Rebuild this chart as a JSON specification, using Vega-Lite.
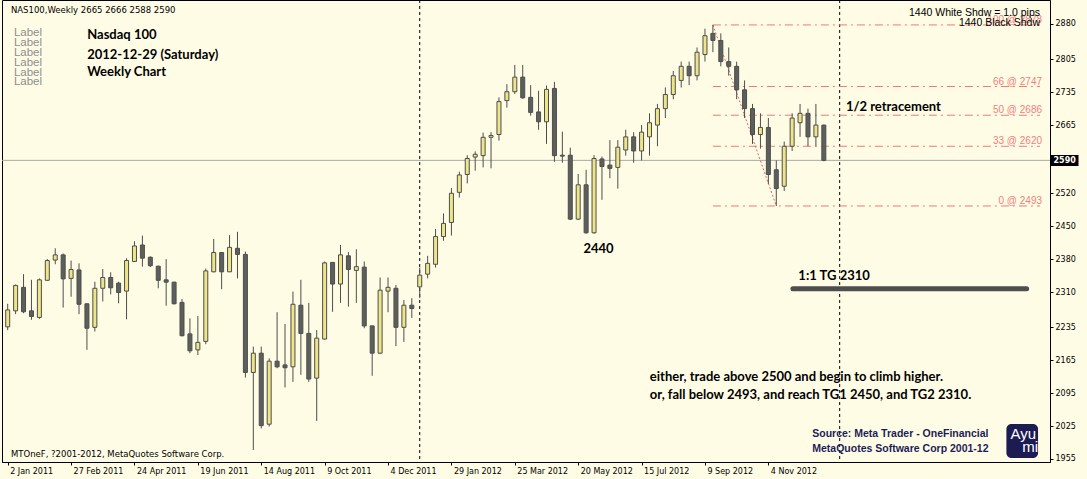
{
  "$schema": "https://vega.github.io/schema/vega-lite/v6.json",
  "width": 1048,
  "height": 462,
  "autosize": {"type": "none"},
  "padding": {"left": 2, "top": 0, "right": 37, "bottom": 17},
  "background": "#FFFCE6",
  "config": {"view": {"stroke": "#000000", "strokeWidth": 1}},
  "resolve": {"axis": {"x": "independent", "y": "independent"}},
  "datasets": {
    "candles": [
      {"d":"2011-01-02","o":2236,"h":2285,"l":2229,"c":2272},
      {"d":"2011-01-09","o":2270,"h":2326,"l":2263,"c":2324},
      {"d":"2011-01-16","o":2320,"h":2348,"l":2265,"c":2268},
      {"d":"2011-01-23","o":2270,"h":2336,"l":2251,"c":2258},
      {"d":"2011-01-30","o":2256,"h":2339,"l":2253,"c":2336},
      {"d":"2011-02-06","o":2335,"h":2380,"l":2334,"c":2377},
      {"d":"2011-02-13","o":2378,"h":2403,"l":2369,"c":2389},
      {"d":"2011-02-20","o":2389,"h":2392,"l":2277,"c":2338},
      {"d":"2011-02-27","o":2339,"h":2377,"l":2300,"c":2358},
      {"d":"2011-03-06","o":2357,"h":2371,"l":2263,"c":2284},
      {"d":"2011-03-13","o":2285,"h":2286,"l":2187,"c":2233},
      {"d":"2011-03-20","o":2235,"h":2332,"l":2226,"c":2318},
      {"d":"2011-03-27","o":2318,"h":2359,"l":2290,"c":2341},
      {"d":"2011-04-03","o":2341,"h":2352,"l":2305,"c":2319},
      {"d":"2011-04-10","o":2329,"h":2332,"l":2286,"c":2309},
      {"d":"2011-04-17","o":2312,"h":2382,"l":2252,"c":2377},
      {"d":"2011-04-24","o":2375,"h":2418,"l":2374,"c":2408},
      {"d":"2011-05-01","o":2410,"h":2430,"l":2364,"c":2382},
      {"d":"2011-05-08","o":2384,"h":2386,"l":2363,"c":2366},
      {"d":"2011-05-15","o":2365,"h":2366,"l":2318,"c":2335},
      {"d":"2011-05-22","o":2336,"h":2380,"l":2281,"c":2331},
      {"d":"2011-05-29","o":2331,"h":2332,"l":2284,"c":2285},
      {"d":"2011-06-05","o":2288,"h":2295,"l":2216,"c":2217},
      {"d":"2011-06-12","o":2221,"h":2254,"l":2180,"c":2185},
      {"d":"2011-06-19","o":2187,"h":2259,"l":2176,"c":2203},
      {"d":"2011-06-26","o":2205,"h":2360,"l":2199,"c":2355},
      {"d":"2011-07-03","o":2353,"h":2423,"l":2352,"c":2394},
      {"d":"2011-07-10","o":2394,"h":2395,"l":2316,"c":2353},
      {"d":"2011-07-17","o":2353,"h":2431,"l":2353,"c":2405},
      {"d":"2011-07-24","o":2403,"h":2438,"l":2339,"c":2390},
      {"d":"2011-07-31","o":2390,"h":2396,"l":2128,"c":2139},
      {"d":"2011-08-07","o":2139,"h":2194,"l":1974,"c":2180},
      {"d":"2011-08-14","o":2180,"h":2194,"l":2020,"c":2026},
      {"d":"2011-08-21","o":2029,"h":2169,"l":2024,"c":2163},
      {"d":"2011-08-28","o":2163,"h":2267,"l":2148,"c":2151},
      {"d":"2011-09-04","o":2155,"h":2242,"l":2107,"c":2149},
      {"d":"2011-09-11","o":2151,"h":2311,"l":2119,"c":2284},
      {"d":"2011-09-18","o":2282,"h":2336,"l":2134,"c":2222},
      {"d":"2011-09-25","o":2222,"h":2287,"l":2119,"c":2125},
      {"d":"2011-10-02","o":2127,"h":2229,"l":2036,"c":2212},
      {"d":"2011-10-09","o":2210,"h":2375,"l":2209,"c":2372},
      {"d":"2011-10-16","o":2373,"h":2374,"l":2268,"c":2327},
      {"d":"2011-10-23","o":2327,"h":2410,"l":2287,"c":2389},
      {"d":"2011-10-30","o":2387,"h":2395,"l":2279,"c":2358},
      {"d":"2011-11-06","o":2356,"h":2401,"l":2287,"c":2364},
      {"d":"2011-11-13","o":2363,"h":2375,"l":2233,"c":2238},
      {"d":"2011-11-20","o":2238,"h":2239,"l":2132,"c":2180},
      {"d":"2011-11-27","o":2180,"h":2341,"l":2178,"c":2314},
      {"d":"2011-12-04","o":2312,"h":2341,"l":2267,"c":2320},
      {"d":"2011-12-11","o":2318,"h":2325,"l":2195,"c":2235},
      {"d":"2011-12-18","o":2235,"h":2293,"l":2204,"c":2282},
      {"d":"2011-12-25","o":2282,"h":2297,"l":2255,"c":2275},
      {"d":"2012-01-01","o":2321,"h":2362,"l":2297,"c":2346},
      {"d":"2012-01-08","o":2348,"h":2387,"l":2339,"c":2371},
      {"d":"2012-01-15","o":2369,"h":2444,"l":2362,"c":2428},
      {"d":"2012-01-22","o":2428,"h":2477,"l":2419,"c":2456},
      {"d":"2012-01-29","o":2458,"h":2531,"l":2430,"c":2520},
      {"d":"2012-02-05","o":2522,"h":2566,"l":2511,"c":2559},
      {"d":"2012-02-12","o":2560,"h":2601,"l":2541,"c":2594},
      {"d":"2012-02-19","o":2597,"h":2609,"l":2568,"c":2603},
      {"d":"2012-02-26","o":2600,"h":2649,"l":2575,"c":2639},
      {"d":"2012-03-04","o":2639,"h":2650,"l":2573,"c":2643},
      {"d":"2012-03-11","o":2645,"h":2724,"l":2632,"c":2715},
      {"d":"2012-03-18","o":2717,"h":2752,"l":2702,"c":2736},
      {"d":"2012-03-25","o":2736,"h":2793,"l":2731,"c":2767},
      {"d":"2012-04-01","o":2767,"h":2793,"l":2721,"c":2723},
      {"d":"2012-04-08","o":2724,"h":2750,"l":2685,"c":2692},
      {"d":"2012-04-15","o":2693,"h":2738,"l":2655,"c":2672},
      {"d":"2012-04-22","o":2672,"h":2749,"l":2625,"c":2741},
      {"d":"2012-04-29","o":2743,"h":2757,"l":2587,"c":2600},
      {"d":"2012-05-06","o":2601,"h":2651,"l":2585,"c":2599},
      {"d":"2012-05-13","o":2601,"h":2617,"l":2463,"c":2465},
      {"d":"2012-05-20","o":2465,"h":2561,"l":2463,"c":2538},
      {"d":"2012-05-27","o":2538,"h":2570,"l":2434,"c":2436},
      {"d":"2012-06-03","o":2436,"h":2601,"l":2434,"c":2594},
      {"d":"2012-06-10","o":2593,"h":2598,"l":2506,"c":2577},
      {"d":"2012-06-17","o":2580,"h":2633,"l":2552,"c":2573},
      {"d":"2012-06-24","o":2575,"h":2633,"l":2530,"c":2618},
      {"d":"2012-07-01","o":2612,"h":2655,"l":2600,"c":2640},
      {"d":"2012-07-08","o":2640,"h":2650,"l":2585,"c":2610},
      {"d":"2012-07-15","o":2610,"h":2665,"l":2590,"c":2650},
      {"d":"2012-07-22","o":2640,"h":2690,"l":2600,"c":2670},
      {"d":"2012-07-29","o":2665,"h":2710,"l":2620,"c":2700},
      {"d":"2012-08-05","o":2700,"h":2745,"l":2680,"c":2730},
      {"d":"2012-08-12","o":2730,"h":2780,"l":2720,"c":2770},
      {"d":"2012-08-19","o":2760,"h":2800,"l":2745,"c":2790},
      {"d":"2012-08-26","o":2790,"h":2800,"l":2750,"c":2770},
      {"d":"2012-09-02","o":2770,"h":2830,"l":2760,"c":2820},
      {"d":"2012-09-09","o":2815,"h":2870,"l":2800,"c":2855},
      {"d":"2012-09-16","o":2860,"h":2878,"l":2820,"c":2845},
      {"d":"2012-09-23","o":2845,"h":2860,"l":2790,"c":2800},
      {"d":"2012-09-30","o":2800,"h":2830,"l":2770,"c":2790},
      {"d":"2012-10-07","o":2790,"h":2800,"l":2720,"c":2740},
      {"d":"2012-10-14","o":2740,"h":2760,"l":2680,"c":2700},
      {"d":"2012-10-21","o":2700,"h":2710,"l":2625,"c":2645},
      {"d":"2012-10-28","o":2645,"h":2690,"l":2615,"c":2660},
      {"d":"2012-11-04","o":2660,"h":2680,"l":2540,"c":2560},
      {"d":"2012-11-11","o":2570,"h":2590,"l":2493,"c":2530},
      {"d":"2012-11-18","o":2535,"h":2630,"l":2525,"c":2620},
      {"d":"2012-11-25","o":2620,"h":2690,"l":2610,"c":2680},
      {"d":"2012-12-02","o":2670,"h":2710,"l":2640,"c":2690},
      {"d":"2012-12-09","o":2690,"h":2700,"l":2620,"c":2640},
      {"d":"2012-12-16","o":2640,"h":2710,"l":2620,"c":2665},
      {"d":"2012-12-23","o":2665,"h":2666,"l":2588,"c":2590}
    ],
    "bid": [{"p": 2590}],
    "seps": [{"d": "2012-01-01"}, {"d": "2013-01-06"}],
    "fib": [
      {"d": "2012-09-16", "d2": "2013-07-02", "p": 2878, "t": "100 @ 2878"},
      {"d": "2012-09-16", "d2": "2013-07-02", "p": 2747, "t": "66 @ 2747"},
      {"d": "2012-09-16", "d2": "2013-07-02", "p": 2686, "t": "50 @ 2686"},
      {"d": "2012-09-16", "d2": "2013-07-02", "p": 2620, "t": "33 @ 2620"},
      {"d": "2012-09-16", "d2": "2013-07-02", "p": 2493, "t": "0 @ 2493"}
    ],
    "fibLabels": [
      {"d": "2013-07-03T18:00:00Z", "p": 2878, "t": "100 @ 2878"},
      {"d": "2013-07-03T18:00:00Z", "p": 2747, "t": "66 @ 2747"},
      {"d": "2013-07-03T18:00:00Z", "p": 2686, "t": "50 @ 2686"},
      {"d": "2013-07-03T18:00:00Z", "p": 2620, "t": "33 @ 2620"},
      {"d": "2013-07-03T18:00:00Z", "p": 2493, "t": "0 @ 2493"}
    ],
    "diag": [{"d": "2012-09-16", "p": 2878, "d2": "2012-11-11", "p2": 2493}],
    "tg": [{"d": "2012-11-25T16:00:00Z", "d2": "2013-06-20T04:00:00Z", "p": 2317}],
    "logo": [{"d": "2013-06-02T07:00:00Z", "d2": "2013-06-30T06:00:00Z", "p": 1957.1, "p2": 2029.4}],
    "notes": [
      {"g": "mt", "d": "2011-01-04T21:00:00Z", "p": 2908.7, "t": "NAS100,Weekly  2665 2666 2588 2590"},
      {"g": "mt", "d": "2011-01-04T21:00:00Z", "p": 1965.6, "t": "MTOneF, ?2001-2012, MetaQuotes Software Corp."},
      {"g": "lbl", "d": "2011-01-07T12:00:00Z", "p": 2861.5, "t": "Label"},
      {"g": "lbl", "d": "2011-01-07T12:00:00Z", "p": 2840.2, "t": "Label"},
      {"g": "lbl", "d": "2011-01-07T12:00:00Z", "p": 2819.0, "t": "Label"},
      {"g": "lbl", "d": "2011-01-07T12:00:00Z", "p": 2797.7, "t": "Label"},
      {"g": "lbl", "d": "2011-01-07T12:00:00Z", "p": 2776.4, "t": "Label"},
      {"g": "lbl", "d": "2011-01-07T12:00:00Z", "p": 2757.3, "t": "Label"},
      {"g": "big", "d": "2011-03-13T06:00:00Z", "p": 2856.6, "t": "Nasdaq 100"},
      {"g": "big", "d": "2011-03-13T06:00:00Z", "p": 2815.1, "t": "2012-12-29 (Saturday)"},
      {"g": "big", "d": "2011-03-13T06:00:00Z", "p": 2777.9, "t": "Weekly Chart"},
      {"g": "big", "d": "2013-01-11T12:00:00Z", "p": 2704.5, "t": "1/2 retracement"},
      {"g": "big", "d": "2012-05-24T14:00:00Z", "p": 2400.5, "t": "2440"},
      {"g": "big", "d": "2012-11-30T12:00:00Z", "p": 2344.1, "t": "1:1 TG  2310"},
      {"g": "big", "d": "2012-07-22T07:00:00Z", "p": 2129.3, "t": "either, trade above 2500 and begin to climb higher."},
      {"g": "big", "d": "2012-07-22T07:00:00Z", "p": 2091.1, "t": "or, fall below 2493, and reach TG1 2450, and TG2 2310."},
      {"g": "src", "d": "2012-12-12T19:00:00Z", "p": 2009.2, "t": "Source: Meta Trader - OneFinancial"},
      {"g": "src", "d": "2012-12-12T19:00:00Z", "p": 1977.3, "t": "MetaQuotes Software Corp 2001-12"},
      {"g": "shdw", "d": "2013-07-02T00:00:00Z", "p": 2904.0, "t": "1440  White Shdw = 1.0 pips"},
      {"g": "shdw", "d": "2013-07-02T00:00:00Z", "p": 2882.7, "t": "1440  Black Shdw"},
      {"g": "logo", "d": "2013-06-17T03:00:00Z", "p": 2008.1, "t": "Ayu"},
      {"g": "logo", "d": "2013-06-23T07:00:00Z", "p": 1980.5, "t": "mi"}
    ]
  },
  "layer": [
    {
      "data": {"name": "bid"},
      "mark": {"type": "rule", "color": "#A8A8A8", "strokeWidth": 1},
      "encoding": {
        "y": {"field": "p", "type": "quantitative", "scale": {"domain": [1948.6, 2931], "nice": false, "zero": false}, "axis": null}
      }
    },
    {
      "data": {"name": "seps"},
      "mark": {"type": "rule", "color": "#000000", "strokeWidth": 1, "strokeDash": [3, 3]},
      "encoding": {
        "x": {"field": "d", "type": "temporal", "scale": {"type": "utc", "domain": [{"year": 2011, "month": 1, "date": 1, "hours": 9, "minutes": 18, "utc": true}, {"year": 2013, "month": 7, "date": 6, "hours": 9, "minutes": 22, "utc": true}]}, "axis": null}
      }
    },
    {
      "data": {"name": "fib"},
      "mark": {"type": "rule", "color": "#F07878", "strokeWidth": 1, "strokeDash": [8, 4, 2, 4]},
      "encoding": {
        "x": {"field": "d", "type": "temporal", "scale": {"type": "utc", "domain": [{"year": 2011, "month": 1, "date": 1, "hours": 9, "minutes": 18, "utc": true}, {"year": 2013, "month": 7, "date": 6, "hours": 9, "minutes": 22, "utc": true}]}, "axis": null},
        "x2": {"field": "d2"},
        "y": {"field": "p", "type": "quantitative", "scale": {"domain": [1948.6, 2931], "nice": false, "zero": false}, "axis": null}
      }
    },
    {
      "data": {"name": "fibLabels"},
      "mark": {"type": "text", "color": "#F08080", "font": "Liberation Sans", "fontSize": 10, "align": "right", "baseline": "alphabetic", "dy": -2},
      "encoding": {
        "x": {"field": "d", "type": "temporal", "scale": {"type": "utc", "domain": [{"year": 2011, "month": 1, "date": 1, "hours": 9, "minutes": 18, "utc": true}, {"year": 2013, "month": 7, "date": 6, "hours": 9, "minutes": 22, "utc": true}]}, "axis": null},
        "y": {"field": "p", "type": "quantitative", "scale": {"domain": [1948.6, 2931], "nice": false, "zero": false}, "axis": null},
        "text": {"field": "t"}
      }
    },
    {
      "data": {"name": "diag"},
      "mark": {"type": "rule", "color": "#E86060", "strokeWidth": 1, "strokeDash": [2, 2]},
      "encoding": {
        "x": {"field": "d", "type": "temporal", "scale": {"type": "utc", "domain": [{"year": 2011, "month": 1, "date": 1, "hours": 9, "minutes": 18, "utc": true}, {"year": 2013, "month": 7, "date": 6, "hours": 9, "minutes": 22, "utc": true}]}, "axis": null},
        "x2": {"field": "d2"},
        "y": {"field": "p", "type": "quantitative", "scale": {"domain": [1948.6, 2931], "nice": false, "zero": false}, "axis": null},
        "y2": {"field": "p2"}
      }
    },
    {
      "data": {"name": "tg"},
      "mark": {"type": "rule", "color": "#4E4E4E", "strokeWidth": 5, "strokeCap": "round"},
      "encoding": {
        "x": {"field": "d", "type": "temporal", "scale": {"type": "utc", "domain": [{"year": 2011, "month": 1, "date": 1, "hours": 9, "minutes": 18, "utc": true}, {"year": 2013, "month": 7, "date": 6, "hours": 9, "minutes": 22, "utc": true}]}, "axis": null},
        "x2": {"field": "d2"},
        "y": {"field": "p", "type": "quantitative", "scale": {"domain": [1948.6, 2931], "nice": false, "zero": false}, "axis": null}
      }
    },
    {
      "data": {"name": "logo"},
      "mark": {"type": "rect", "fill": "#1C1C52", "cornerRadius": 5},
      "encoding": {
        "x": {"field": "d", "type": "temporal", "scale": {"type": "utc", "domain": [{"year": 2011, "month": 1, "date": 1, "hours": 9, "minutes": 18, "utc": true}, {"year": 2013, "month": 7, "date": 6, "hours": 9, "minutes": 22, "utc": true}]}, "axis": null},
        "x2": {"field": "d2"},
        "y": {"field": "p", "type": "quantitative", "scale": {"domain": [1948.6, 2931], "nice": false, "zero": false}, "axis": null},
        "y2": {"field": "p2"}
      }
    },
    {
      "data": {"name": "notes"},
      "transform": [{"filter": "datum.g == 'mt'"}],
      "mark": {"type": "text", "font": "DejaVu Sans", "fontSize": 8.5, "color": "#000000", "align": "left", "baseline": "middle"},
      "encoding": {
        "x": {"field": "d", "type": "temporal", "scale": {"type": "utc", "domain": [{"year": 2011, "month": 1, "date": 1, "hours": 9, "minutes": 18, "utc": true}, {"year": 2013, "month": 7, "date": 6, "hours": 9, "minutes": 22, "utc": true}]}, "axis": null},
        "y": {"field": "p", "type": "quantitative", "scale": {"domain": [1948.6, 2931], "nice": false, "zero": false}, "axis": null},
        "text": {"field": "t"}
      }
    },
    {
      "data": {"name": "notes"},
      "transform": [{"filter": "datum.g == 'lbl'"}],
      "mark": {"type": "text", "font": "Liberation Sans", "fontSize": 11.5, "color": "#8E8E8E", "align": "left", "baseline": "middle"},
      "encoding": {
        "x": {"field": "d", "type": "temporal", "scale": {"type": "utc", "domain": [{"year": 2011, "month": 1, "date": 1, "hours": 9, "minutes": 18, "utc": true}, {"year": 2013, "month": 7, "date": 6, "hours": 9, "minutes": 22, "utc": true}]}, "axis": null},
        "y": {"field": "p", "type": "quantitative", "scale": {"domain": [1948.6, 2931], "nice": false, "zero": false}, "axis": null},
        "text": {"field": "t"}
      }
    },
    {
      "data": {"name": "notes"},
      "transform": [{"filter": "datum.g == 'big'"}],
      "mark": {"type": "text", "font": "Lato", "fontWeight": "bold", "fontSize": 13, "color": "#000000", "align": "left", "baseline": "middle"},
      "encoding": {
        "x": {"field": "d", "type": "temporal", "scale": {"type": "utc", "domain": [{"year": 2011, "month": 1, "date": 1, "hours": 9, "minutes": 18, "utc": true}, {"year": 2013, "month": 7, "date": 6, "hours": 9, "minutes": 22, "utc": true}]}, "axis": null},
        "y": {"field": "p", "type": "quantitative", "scale": {"domain": [1948.6, 2931], "nice": false, "zero": false}, "axis": null},
        "text": {"field": "t"}
      }
    },
    {
      "data": {"name": "notes"},
      "transform": [{"filter": "datum.g == 'src'"}],
      "mark": {"type": "text", "font": "Liberation Sans", "fontWeight": "bold", "fontSize": 10.5, "color": "#1C1C5A", "align": "left", "baseline": "middle"},
      "encoding": {
        "x": {"field": "d", "type": "temporal", "scale": {"type": "utc", "domain": [{"year": 2011, "month": 1, "date": 1, "hours": 9, "minutes": 18, "utc": true}, {"year": 2013, "month": 7, "date": 6, "hours": 9, "minutes": 22, "utc": true}]}, "axis": null},
        "y": {"field": "p", "type": "quantitative", "scale": {"domain": [1948.6, 2931], "nice": false, "zero": false}, "axis": null},
        "text": {"field": "t"}
      }
    },
    {
      "data": {"name": "notes"},
      "transform": [{"filter": "datum.g == 'shdw'"}],
      "mark": {"type": "text", "font": "Liberation Sans", "fontSize": 10.5, "color": "#000000", "align": "right", "baseline": "middle"},
      "encoding": {
        "x": {"field": "d", "type": "temporal", "scale": {"type": "utc", "domain": [{"year": 2011, "month": 1, "date": 1, "hours": 9, "minutes": 18, "utc": true}, {"year": 2013, "month": 7, "date": 6, "hours": 9, "minutes": 22, "utc": true}]}, "axis": null},
        "y": {"field": "p", "type": "quantitative", "scale": {"domain": [1948.6, 2931], "nice": false, "zero": false}, "axis": null},
        "text": {"field": "t"}
      }
    },
    {
      "data": {"name": "notes"},
      "transform": [{"filter": "datum.g == 'logo'"}],
      "mark": {"type": "text", "font": "Liberation Sans", "fontSize": 15, "color": "#FFFFFF", "align": "center", "baseline": "middle"},
      "encoding": {
        "x": {"field": "d", "type": "temporal", "scale": {"type": "utc", "domain": [{"year": 2011, "month": 1, "date": 1, "hours": 9, "minutes": 18, "utc": true}, {"year": 2013, "month": 7, "date": 6, "hours": 9, "minutes": 22, "utc": true}]}, "axis": null},
        "y": {"field": "p", "type": "quantitative", "scale": {"domain": [1948.6, 2931], "nice": false, "zero": false}, "axis": null},
        "text": {"field": "t"}
      }
    },
    {
      "data": {"name": "candles"},
      "mark": {"type": "rule", "color": "#4D4D4D", "strokeWidth": 1},
      "encoding": {
        "x": {"field": "d", "type": "temporal", "scale": {"type": "utc", "domain": [{"year": 2011, "month": 1, "date": 1, "hours": 9, "minutes": 18, "utc": true}, {"year": 2013, "month": 7, "date": 6, "hours": 9, "minutes": 22, "utc": true}]}, "axis": null},
        "y": {"field": "l", "type": "quantitative", "scale": {"domain": [1948.6, 2931], "nice": false, "zero": false}, "axis": null},
        "y2": {"field": "h"}
      }
    },
    {
      "data": {"name": "candles"},
      "mark": {"type": "bar", "size": 4, "stroke": "#4D4D4D", "strokeWidth": 1},
      "encoding": {
        "x": {
          "field": "d", "type": "temporal",
          "scale": {"type": "utc", "domain": [{"year": 2011, "month": 1, "date": 1, "hours": 9, "minutes": 18, "utc": true}, {"year": 2013, "month": 7, "date": 6, "hours": 9, "minutes": 22, "utc": true}]},
          "axis": {
            "title": null, "grid": false,
            "values": [
              {"year": 2011, "month": 1, "date": 2, "utc": true},
              {"year": 2011, "month": 2, "date": 27, "utc": true},
              {"year": 2011, "month": 4, "date": 24, "utc": true},
              {"year": 2011, "month": 6, "date": 19, "utc": true},
              {"year": 2011, "month": 8, "date": 14, "utc": true},
              {"year": 2011, "month": 10, "date": 9, "utc": true},
              {"year": 2011, "month": 12, "date": 4, "utc": true},
              {"year": 2012, "month": 1, "date": 29, "utc": true},
              {"year": 2012, "month": 3, "date": 25, "utc": true},
              {"year": 2012, "month": 5, "date": 20, "utc": true},
              {"year": 2012, "month": 7, "date": 15, "utc": true},
              {"year": 2012, "month": 9, "date": 9, "utc": true},
              {"year": 2012, "month": 11, "date": 4, "utc": true}
            ],
            "labelExpr": "utcFormat(datum.value, '%-d %b %Y')",
            "labelAlign": "left", "labelBaseline": "top", "labelOffset": 2,
            "labelFont": "DejaVu Sans", "labelFontSize": 8, "labelColor": "#000000",
            "labelPadding": 2, "labelFlush": false, "labelOverlap": false,
            "tickSize": 3, "tickColor": "#000000", "domainColor": "#000000"
          }
        },
        "y": {
          "field": "o", "type": "quantitative",
          "scale": {"domain": [1948.6, 2931], "nice": false, "zero": false},
          "axis": {
            "orient": "right", "title": null, "grid": false, "format": "d",
            "values": [1955, 2025, 2095, 2165, 2235, 2310, 2380, 2450, 2520, 2590, 2665, 2735, 2805, 2880],
            "labelFont": "DejaVu Sans", "labelFontSize": 8,
            "labelColor": {"condition": {"test": "datum.value == 2590", "value": "#FFFFFF"}, "value": "#000000"},
            "labelFontWeight": {"condition": {"test": "datum.value == 2590", "value": "bold"}, "value": "normal"},
            "labelPadding": {"condition": {"test": "datum.value == 2590", "value": -25}, "value": 2},
            "tickSize": {"condition": {"test": "datum.value == 2590", "value": 28}, "value": 3},
            "tickWidth": {"condition": {"test": "datum.value == 2590", "value": 11}, "value": 1},
            "tickColor": "#000000", "domainColor": "#000000",
            "labelFlush": false, "labelOverlap": false
          }
        },
        "y2": {"field": "c"},
        "fill": {"condition": {"test": "datum.c >= datum.o", "value": "#EEE588"}, "value": "#5C605C"}
      }
    }
  ]
}
